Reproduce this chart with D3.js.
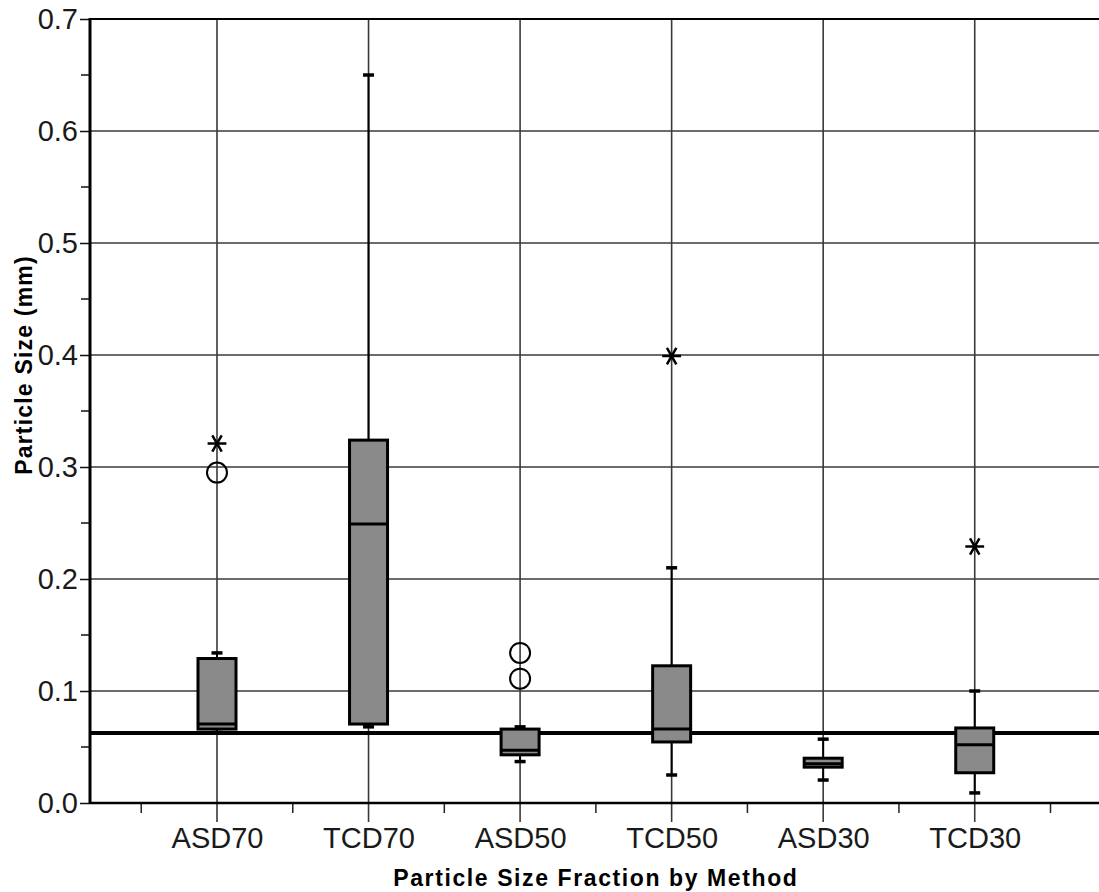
<!DOCTYPE html>
<html>
<head>
<meta charset="utf-8">
<script src="https://cdn.jsdelivr.net/npm/d3@7"></script>
<style>
  html, body { margin: 0; padding: 0; background: #fff; }
  svg { display: block; }
</style>
</head>
<body>
<svg id="chart" width="1099" height="892"></svg>
<script>
// ---- data ----
const categories = ["ASD70", "TCD70", "ASD50", "TCD50", "ASD30", "TCD30"];
const whiskerLow  = [0.063, 0.068, 0.037, 0.025, 0.0205, 0.009];
const q1          = [0.066, 0.0705, 0.043, 0.0545, 0.032, 0.027];
const median      = [0.0705, 0.249, 0.047, 0.066, 0.035, 0.052];
const q3          = [0.129, 0.324, 0.066, 0.1225, 0.040, 0.067];
const whiskerHigh = [0.134, 0.650, 0.068, 0.210, 0.057, 0.100];
const outlierCat  = ["ASD70", "ASD50", "ASD50"];
const outlierVal  = [0.295, 0.134, 0.111];
const extremeCat  = ["ASD70", "TCD50", "TCD30"];
const extremeVal  = [0.321, 0.399, 0.229];
const referenceValue = 0.0625;
const yTicks = [0.0, 0.1, 0.2, 0.3, 0.4, 0.5, 0.6, 0.7];
const yMinorTicks = [0.05, 0.15, 0.25, 0.35, 0.45, 0.55, 0.65];
const xMinorTicks = [0.5, 1.5, 2.5, 3.5, 4.5, 5.5, 6.5];
const xTitle = "Particle Size Fraction by Method";
const yTitle = "Particle Size (mm)";

(function () {
// ---- layout ----
const pLeft = 90, pRight = 1099, pTop = 19, pBottom = 803;

const svg = d3.select("#chart");
const x = d3.scaleLinear().domain([0.162, 6.82]).range([pLeft, pRight]);
const xc = c => x(categories.indexOf(c) + 1);
const y = d3.scaleLinear().domain([0, 0.7]).range([pBottom, pTop]);

const font = "'Liberation Sans', Arial, sans-serif";
const gridColor = "#3a3a3a";

// horizontal grid
svg.append("g").selectAll("line").data(yTicks.slice(1, -1)).join("line")
  .attr("x1", pLeft).attr("x2", pRight)
  .attr("y1", d => y(d)).attr("y2", d => y(d))
  .attr("stroke", gridColor).attr("stroke-width", 1.6);

// vertical grid (extends below axis as major tick)
svg.append("g").selectAll("line").data(categories).join("line")
  .attr("x1", d => xc(d)).attr("x2", d => xc(d))
  .attr("y1", pTop).attr("y2", pBottom + 19)
  .attr("stroke", gridColor).attr("stroke-width", 1.6);

// x minor ticks
svg.append("g").selectAll("line").data(xMinorTicks).join("line")
  .attr("x1", d => x(d)).attr("x2", d => x(d))
  .attr("y1", pBottom).attr("y2", pBottom + 10)
  .attr("stroke", "#222").attr("stroke-width", 1.5);

// y axis with outward ticks
const yAxis = d3.axisLeft(y).tickValues(yTicks).tickFormat(d3.format(".1f")).tickSize(10).tickPadding(2);
const yg = svg.append("g").attr("transform", `translate(${pLeft},0)`).call(yAxis);
yg.select(".domain").remove();
yg.selectAll(".tick line").attr("stroke", "#111").attr("stroke-width", 1.5);
yg.selectAll(".tick text")
  .attr("font-family", font).attr("font-size", 29).attr("fill", "#1a1a1a");
svg.append("g").selectAll("line").data(yMinorTicks).join("line")
  .attr("x1", pLeft - 9).attr("x2", pLeft)
  .attr("y1", d => y(d)).attr("y2", d => y(d))
  .attr("stroke", "#111").attr("stroke-width", 1.5);

// x axis labels
const xAxis = d3.axisBottom(x).tickValues(categories.map((c, i) => i + 1))
  .tickFormat(d => categories[d - 1]).tickSize(0).tickPadding(24);
const xg = svg.append("g").attr("transform", `translate(0,${pBottom})`).call(xAxis);
xg.select(".domain").remove();
xg.selectAll(".tick text")
  .attr("font-family", font).attr("font-size", 29).attr("fill", "#1a1a1a");

// reference line
svg.append("line")
  .attr("x1", pLeft).attr("x2", pRight)
  .attr("y1", y(referenceValue)).attr("y2", y(referenceValue))
  .attr("stroke", "#000").attr("stroke-width", 4);

// boxes
const boxW = 38, capW = 11;
const boxes = svg.append("g").selectAll("g").data(categories).join("g");
boxes.append("line") // whisker
  .attr("x1", d => xc(d)).attr("x2", d => xc(d))
  .attr("y1", (d, i) => y(whiskerLow[i])).attr("y2", (d, i) => y(whiskerHigh[i]))
  .attr("stroke", "#000").attr("stroke-width", 2);
boxes.append("line") // lower cap
  .attr("x1", d => xc(d) - capW / 2).attr("x2", d => xc(d) + capW / 2)
  .attr("y1", (d, i) => y(whiskerLow[i])).attr("y2", (d, i) => y(whiskerLow[i]))
  .attr("stroke", "#000").attr("stroke-width", 3.5);
boxes.append("line") // upper cap
  .attr("x1", d => xc(d) - capW / 2).attr("x2", d => xc(d) + capW / 2)
  .attr("y1", (d, i) => y(whiskerHigh[i])).attr("y2", (d, i) => y(whiskerHigh[i]))
  .attr("stroke", "#000").attr("stroke-width", 3.5);
boxes.append("rect")
  .attr("x", d => xc(d) - boxW / 2).attr("width", boxW)
  .attr("y", (d, i) => y(q3[i])).attr("height", (d, i) => y(q1[i]) - y(q3[i]))
  .attr("fill", "#8a8a8a").attr("stroke", "#000").attr("stroke-width", 3);
boxes.append("line") // median
  .attr("x1", d => xc(d) - boxW / 2).attr("x2", d => xc(d) + boxW / 2)
  .attr("y1", (d, i) => y(median[i])).attr("y2", (d, i) => y(median[i]))
  .attr("stroke", "#000").attr("stroke-width", 3);

// outliers (circles)
svg.append("g").selectAll("path").data(outlierVal).join("path")
  .attr("transform", (d, i) => `translate(${xc(outlierCat[i])},${y(d)})`)
  .attr("d", d3.symbol(d3.symbolCircle, Math.PI * 10 * 10))
  .attr("fill", "none").attr("stroke", "#000").attr("stroke-width", 2);

// extremes (asterisks)
svg.append("g").selectAll("path").data(extremeVal).join("path")
  .attr("transform", (d, i) => `translate(${xc(extremeCat[i])},${y(d)}) rotate(90)`)
  .attr("d", d3.symbol(d3.symbolAsterisk, 250))
  .attr("fill", "none").attr("stroke", "#000").attr("stroke-width", 2.5);

// frame: left axis, bottom axis, top border
svg.append("line").attr("x1", pLeft).attr("x2", pLeft).attr("y1", pTop - 1).attr("y2", pBottom + 1)
  .attr("stroke", "#000").attr("stroke-width", 3);
svg.append("line").attr("x1", pLeft).attr("x2", pRight).attr("y1", pBottom).attr("y2", pBottom)
  .attr("stroke", "#000").attr("stroke-width", 2.5);
svg.append("line").attr("x1", pLeft).attr("x2", pRight).attr("y1", pTop).attr("y2", pTop)
  .attr("stroke", "#000").attr("stroke-width", 2);

// titles
svg.append("text")
  .attr("x", (x(3) + x(4)) / 2).attr("y", 886)
  .attr("text-anchor", "middle")
  .attr("font-family", font).attr("font-weight", "bold").attr("font-size", 23)
  .attr("letter-spacing", 1.6).attr("fill", "#000")
  .text(xTitle);
svg.append("text")
  .attr("transform", `translate(32,365) rotate(-90)`)
  .attr("text-anchor", "middle")
  .attr("font-family", font).attr("font-weight", "bold").attr("font-size", 23)
  .attr("letter-spacing", 1.2).attr("fill", "#000")
  .text(yTitle);
})();
</script>
</body>
</html>
